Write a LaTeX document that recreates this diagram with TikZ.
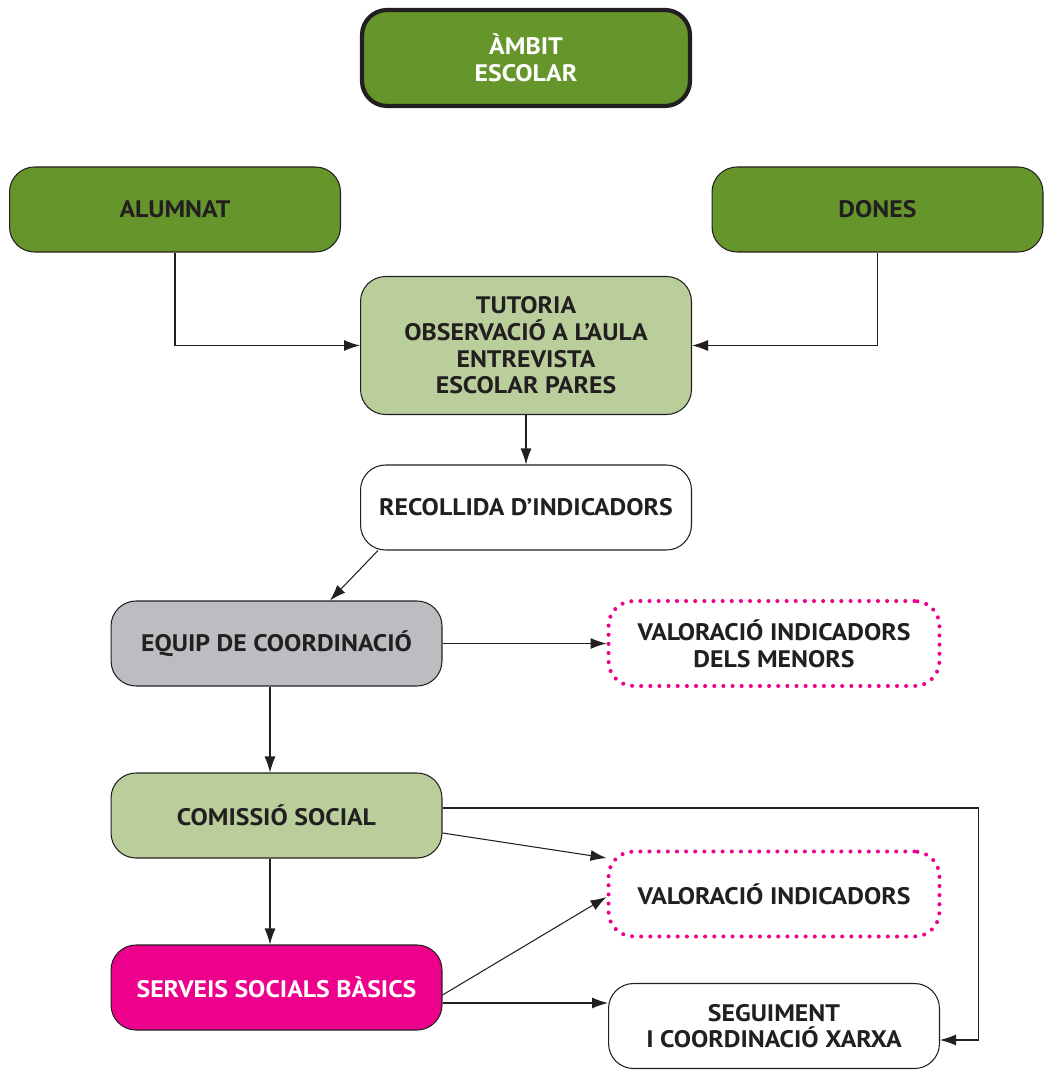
\documentclass[tikz,border=0pt]{standalone}
\usepackage{fontspec}
\setmainfont{PT Sans}[FakeStretch=1.08]
\usepackage{tikz}
\usetikzlibrary{arrows.meta}
\definecolor{verdfosc}{HTML}{66962B}
\definecolor{verdclar}{HTML}{B9CE9B}
\definecolor{gris}{HTML}{BDBDC1}
\definecolor{magenta}{HTML}{EC008C}
\definecolor{tinta}{HTML}{231F20}
\tikzstyle{caixa}=[rectangle, rounded corners=0.5cm, draw=tinta, line width=0.6pt, minimum width=6.62cm, minimum height=1.7cm, align=center, text=tinta, font=\fontsize{13.6}{15.2}\selectfont\bfseries]
\tikzset{puntejat/.style={caixa, draw=magenta, line width=2.3pt, line cap=round, dash pattern=on 0pt off 5.2pt}}
\tikzset{fletxa/.style={-{Latex[length=3.2mm,width=2.2mm]}, draw=tinta, line width=0.6pt}}

\begin{document}
\begin{tikzpicture}[x=0.02cm,y=-0.02cm]
		\useasboundingbox (0,0) rectangle (1044,1070);
		\node[caixa, fill=verdfosc, text=white, line width=2.4pt, minimum width=6.56cm, minimum height=1.92cm] (ambit) at (526,58) {ÀMBIT\\ESCOLAR};
		\node[caixa, fill=verdfosc] (alumnat) at (175,209.5) {ALUMNAT};
		\node[caixa, fill=verdfosc] (dones) at (877.5,209.5) {DONES};
		\node[caixa, fill=verdclar, minimum height=2.76cm] (tutoria) at (526,345.5) {TUTORIA\\OBSERVACIÓ A L’AULA\\ENTREVISTA\\ESCOLAR PARES};
		\node[caixa, fill=white] (recollida) at (526,507.5) {RECOLLIDA D’INDICADORS};
		\node[caixa, fill=gris] (equip) at (276.5,643.5) {EQUIP DE COORDINACIÓ};
		\node[puntejat] (menors) at (774,643.5) {VALORACIÓ INDICADORS\\DELS MENORS};
		\node[caixa, fill=verdclar] (comissio) at (276.5,815.5) {COMISSIÓ SOCIAL};
		\node[puntejat] (valoracio) at (774,894) {VALORACIÓ INDICADORS};
		\node[caixa, fill=magenta, text=white] (serveis) at (276.5,987.5) {SERVEIS SOCIALS BÀSICS};
		\node[caixa, fill=white] (seguiment) at (774,1026) {SEGUIMENT\\I COORDINACIÓ XARXA};

		\draw[fletxa] (alumnat.south) |- ([yshift=0.0cm]tutoria.west);
		\draw[fletxa] (dones.south) |- ([yshift=0.0cm]tutoria.east);
		\draw[fletxa] (tutoria.south) -- (recollida.north);
		\draw[fletxa] ([xshift=0.36cm]recollida.south west) -- ([xshift=1.07cm]equip.north);
		\draw[fletxa] (equip.east) -- (menors.west);
		\draw[fletxa] ([xshift=-0.13cm]equip.south) -- ([xshift=-0.13cm]comissio.north);
		\draw[fletxa] ([yshift=0.15cm]comissio.east) -- ++(10.72cm,0) |- ([yshift=-0.28cm]seguiment.east);
		\draw[fletxa] ([yshift=-0.35cm]comissio.east) -- ([yshift=0.72cm]valoracio.west);
		\draw[fletxa] ([xshift=-0.13cm]comissio.south) -- ([xshift=-0.13cm]serveis.north);
		\draw[fletxa] ([yshift=-0.15cm]serveis.east) -- ([yshift=-0.06cm]valoracio.west);
		\draw[fletxa] ([yshift=-0.31cm]serveis.east) -- ([yshift=-0.31cm]serveis.east -| seguiment.west);
\end{tikzpicture}
\end{document}
